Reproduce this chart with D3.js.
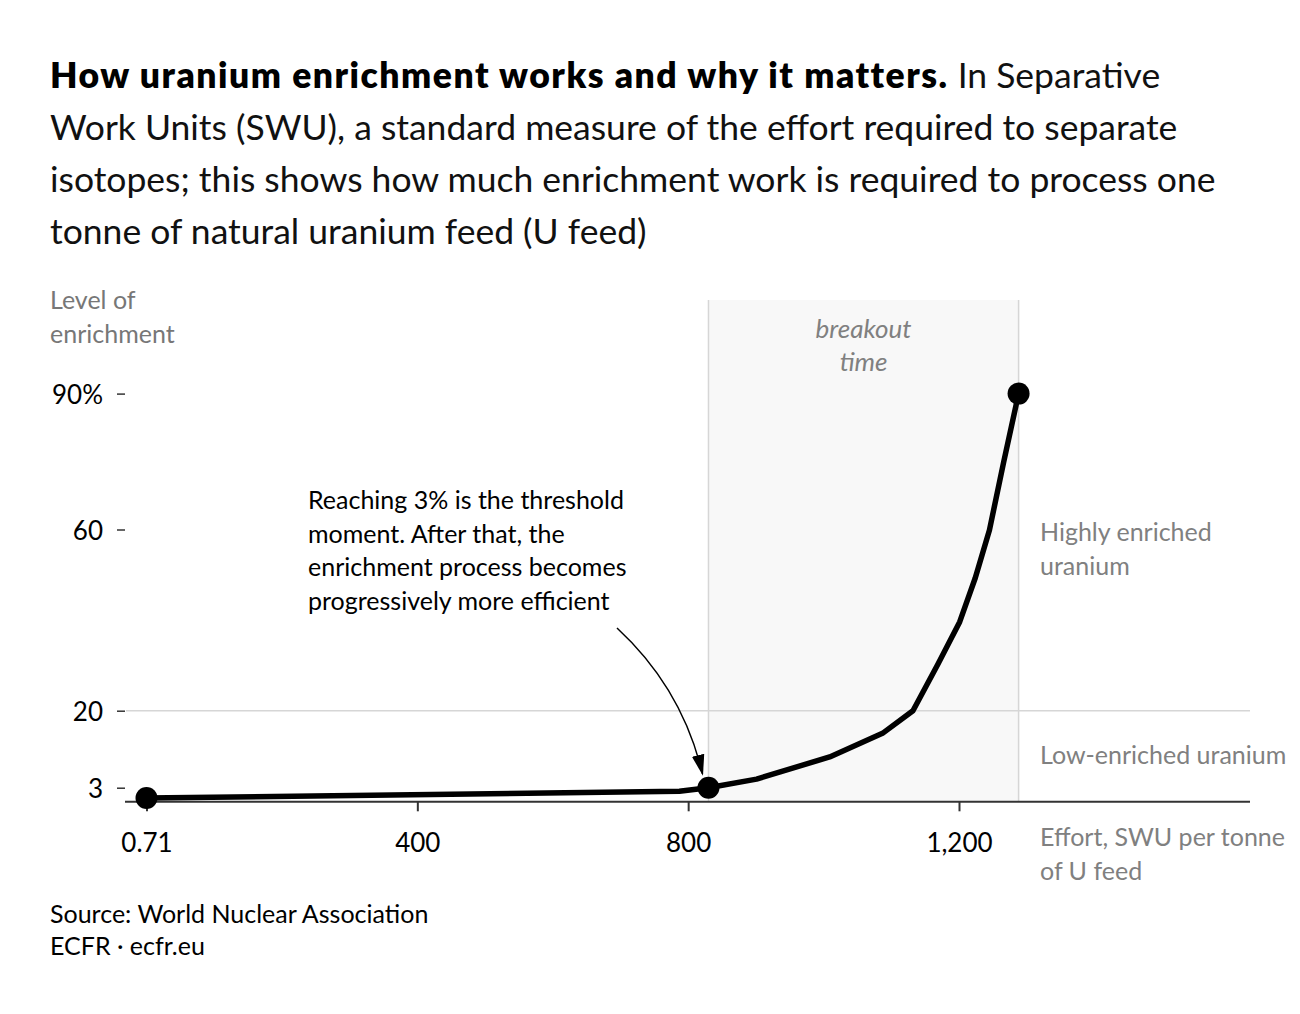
<!DOCTYPE html>
<html>
<head>
<meta charset="utf-8">
<script src="https://cdn.jsdelivr.net/npm/d3@7"></script>
<style>
  body { margin: 0; background: #fff; }
  svg { display: block; font-family: Lato, "Noto Sans", sans-serif; }
</style>
</head>
<body>
<svg id="chart" width="1300" height="1014"></svg>
<script>
// effort (SWU per tonne of U feed) vs level of enrichment (%)
const effort = [0, 787, 830, 901, 1009, 1087, 1132, 1169, 1201, 1224, 1245, 1266, 1288];
const enrichment = [0.71, 2.2, 3, 4.9, 9.8, 15, 20, 30.3, 39.6, 49.3, 59.9, 74.9, 90];
const markedIdx = [0, 2, 12];

const xTicks = [0, 400, 800, 1200];
const xTickLabels = ['0.71', '400', '800', '1,200'];
const yTicks = [3, 20, 60, 90];
const yTickLabels = ['3', '20', '60', '90%'];

const breakout = [830, 1288];

const titleBold = 'How uranium enrichment works and why it matters.';
const subtitleLines = [
  ' In Separative',
  'Work Units (SWU), a standard measure of the effort required to separate',
  'isotopes; this shows how much enrichment work is required to process one',
  'tonne of natural uranium feed (U feed)'
];
const noteLines = [
  'Reaching 3% is the threshold',
  'moment. After that, the',
  'enrichment process becomes',
  'progressively more efficient'
];

const data = effort.map((e, i) => ({ x: e, y: enrichment[i] }));

const svg = d3.select('#chart');
const x = d3.scaleLinear().domain([0, 1200]).range([146.5, 959]);
const y = d3.scaleLinear().domain([0, 90]).range([801.3, 393.6]);
const plotLeft = 125, plotRight = 1250, plotTop = 300;

// title
const title = svg.append('text').attr('x', 50).attr('y', 88)
  .attr('font-size', 35.5).attr('fill', '#000');
title.append('tspan').attr('font-weight', 800).attr('letter-spacing', 1.5).text(titleBold);
title.append('tspan').attr('fill', '#111').text(subtitleLines[0]);
subtitleLines.slice(1).forEach((l, i) => {
  svg.append('text').attr('x', 50).attr('y', 140 + i * 52)
    .attr('font-size', 35.5).attr('fill', '#111').text(l);
});

// breakout band
svg.append('rect')
  .attr('x', x(breakout[0])).attr('y', plotTop)
  .attr('width', x(breakout[1]) - x(breakout[0]))
  .attr('height', y(0) - plotTop)
  .attr('fill', '#f8f8f8');
svg.selectAll('.bline').data(breakout).join('line')
  .attr('x1', d => x(d)).attr('x2', d => x(d))
  .attr('y1', plotTop).attr('y2', y(0))
  .attr('stroke', '#d6d6d6').attr('stroke-width', 1.5);

svg.append('text').attr('x', (x(breakout[0]) + x(breakout[1])) / 2).attr('y', 338)
  .attr('text-anchor', 'middle').attr('font-size', 26).attr('font-style', 'italic')
  .attr('fill', '#808080')
  .selectAll('tspan').data(['breakout', 'time']).join('tspan')
  .attr('x', (x(breakout[0]) + x(breakout[1])) / 2)
  .attr('dy', (d, i) => i ? 33 : 0).text(d => d);

// 20% gridline
svg.append('line')
  .attr('x1', plotLeft + 1).attr('x2', plotRight)
  .attr('y1', y(20)).attr('y2', y(20))
  .attr('stroke', '#d6d6d6').attr('stroke-width', 1.5);

// y axis
const yAxis = svg.append('g').attr('transform', `translate(${plotLeft},0)`)
  .call(d3.axisLeft(y).tickValues(yTicks)
    .tickFormat((d, i) => yTickLabels[i]).tickSize(8).tickPadding(14));
yAxis.select('.domain').remove();
yAxis.selectAll('.tick line').attr('stroke', '#333').attr('stroke-width', 1.5);
yAxis.selectAll('.tick text').attr('font-size', 26).attr('fill', '#000')
  .attr('font-family', 'Lato, sans-serif').attr('dy', '0.38em');

svg.append('text').attr('x', 50).attr('y', 309).attr('font-size', 25).attr('fill', '#777')
  .selectAll('tspan').data(['Level of', 'enrichment']).join('tspan')
  .attr('x', 50).attr('dy', (d, i) => i ? 34 : 0).text(d => d);

// x axis
const xAxis = svg.append('g').attr('transform', `translate(0,${y(0)})`)
  .call(d3.axisBottom(x).tickValues(xTicks)
    .tickFormat((d, i) => xTickLabels[i]).tickSize(10).tickSizeOuter(0).tickPadding(22));
xAxis.select('.domain').attr('d', `M${plotLeft},0.5H${plotRight}`)
  .attr('stroke', '#333').attr('stroke-width', 2);
xAxis.selectAll('.tick line').attr('stroke', '#333').attr('stroke-width', 2);
xAxis.selectAll('.tick text').attr('font-size', 26).attr('fill', '#000')
  .attr('font-family', 'Lato, sans-serif');

// right-side labels
const sideLabel = (lines, y0) => svg.append('text').attr('x', 1040).attr('y', y0)
  .attr('font-size', 25).attr('fill', '#808080')
  .selectAll('tspan').data(lines).join('tspan')
  .attr('x', 1040).attr('dy', (d, i) => i ? 34 : 0).text(d => d);
sideLabel(['Highly enriched', 'uranium'], 541);
sideLabel(['Low-enriched uranium'], 764);
sideLabel(['Effort, SWU per tonne', 'of U feed'], 846);

// curve
svg.append('path').datum(data)
  .attr('d', d3.line().x(d => x(d.x)).y(d => y(d.y)))
  .attr('fill', 'none').attr('stroke', '#000').attr('stroke-width', 5.5)
  .attr('stroke-linejoin', 'round');
svg.selectAll('.dot').data(markedIdx.map(i => data[i])).join('circle')
  .attr('cx', d => x(d.x)).attr('cy', d => y(d.y)).attr('r', 11).attr('fill', '#000');

// annotation
svg.append('text').attr('x', 308).attr('y', 509).attr('font-size', 25).attr('fill', '#000')
  .selectAll('tspan').data(noteLines).join('tspan')
  .attr('x', 308).attr('dy', (d, i) => i ? 33.5 : 0).text(d => d);

svg.append('defs').append('marker').attr('id', 'arrow')
  .attr('viewBox', '0 0 10 10').attr('refX', 9).attr('refY', 5)
  .attr('markerUnits', 'userSpaceOnUse')
  .attr('markerWidth', 21).attr('markerHeight', 21)
  .attr('orient', 'auto')
  .append('path').attr('d', 'M0,2L10,5L0,8Z').attr('fill', '#000');
const tipX = x(breakout[0]) - 6, tipY = y(3) - 14;
svg.append('path')
  .attr('d', `M617,628Q682,688 ${tipX},${tipY}`)
  .attr('fill', 'none').attr('stroke', '#000').attr('stroke-width', 1.5)
  .attr('marker-end', 'url(#arrow)');

// footer
svg.append('text').attr('x', 50).attr('y', 923).attr('font-size', 25).attr('fill', '#000')
  .selectAll('tspan').data(['Source: World Nuclear Association', 'ECFR · ecfr.eu']).join('tspan')
  .attr('x', 50).attr('dy', (d, i) => i ? 32 : 0).text(d => d);
</script>
</body>
</html>
